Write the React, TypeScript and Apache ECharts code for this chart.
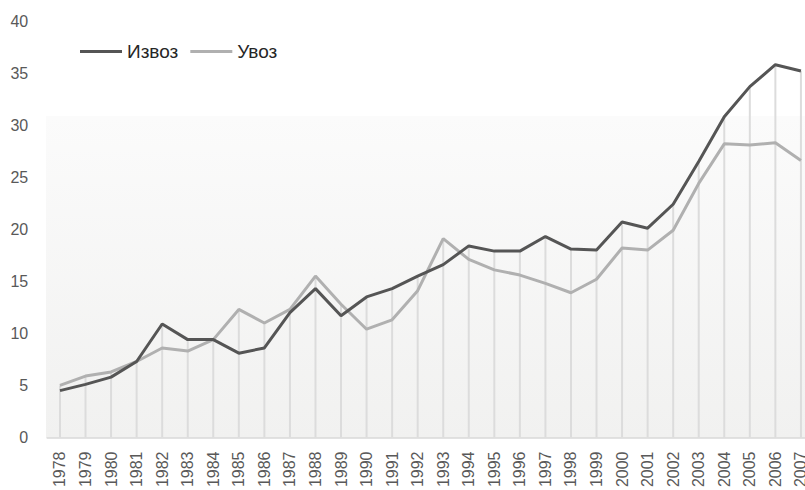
import React, { useEffect, useRef } from "react";
import * as echarts from "echarts";

const years = [
  "1978", "1979", "1980", "1981", "1982", "1983", "1984", "1985", "1986", "1987",
  "1988", "1989", "1990", "1991", "1992", "1993", "1994", "1995", "1996", "1997",
  "1998", "1999", "2000", "2001", "2002", "2003", "2004", "2005", "2006", "2007",
];

const izvoz = [
  4.5, 5.1, 5.8, 7.3, 10.9, 9.4, 9.4, 8.1, 8.6, 12.0,
  14.3, 11.7, 13.5, 14.3, 15.5, 16.6, 18.4, 17.9, 17.9, 19.3,
  18.1, 18.0, 20.7, 20.1, 22.4, 26.5, 30.8, 33.7, 35.8, 35.2,
];

const uvoz = [
  5.0, 5.9, 6.3, 7.3, 8.6, 8.3, 9.4, 12.3, 11.0, 12.3,
  15.5, 12.8, 10.4, 11.3, 14.1, 19.1, 17.1, 16.1, 15.6, 14.8,
  13.9, 15.2, 18.2, 18.0, 19.9, 24.4, 28.2, 28.1, 28.3, 26.6,
];

const seriesNames = ["Извоз", "Увоз"];
const yTicks = { min: 0, max: 40, interval: 5 };

export default function App() {
  const ref = useRef<HTMLDivElement>(null);

  useEffect(() => {
    if (!ref.current) return;
    const chart = echarts.init(ref.current, null, { renderer: "svg" });
    const dropValues = izvoz.map((v, i) => Math.max(v, uvoz[i]));
    chart.setOption({
      animation: false,
      backgroundColor: "#ffffff",
      graphic: [
        {
          type: "rect",
          z: 0,
          silent: true,
          shape: { x: 46, y: 116, width: 770, height: 322 },
          style: {
            fill: new echarts.graphic.LinearGradient(0, 0, 0, 1, [
              { offset: 0, color: "#fbfbfb" },
              { offset: 1, color: "#f1f1f0" },
            ]),
          },
        },
      ],
      legend: {
        left: 75,
        top: 37,
        itemWidth: 42,
        itemHeight: 3,
        itemGap: 12,
        icon: "rect",
        textStyle: {
          fontFamily: "Liberation Sans",
          fontSize: 19,
          color: "#262626",
          padding: [0, 0, 0, 0],
        },
        data: seriesNames,
      },
      grid: {
        left: 47.2,
        width: 766.5,
        top: 21,
        bottom: 52.5,
        containLabel: false,
        outerBoundsMode: "none",
      },
      xAxis: {
        type: "category",
        data: years,
        boundaryGap: true,
        axisLine: { show: true, lineStyle: { color: "#d9d9d9", width: 1.5 } },
        axisTick: { show: false },
        axisLabel: {
          rotate: 90,
          interval: 0,
          margin: 14,
          fontFamily: "Liberation Sans",
          fontSize: 16,
          color: "#595959",
        },
        splitLine: { show: false },
      },
      yAxis: {
        type: "value",
        min: yTicks.min,
        max: yTicks.max,
        interval: yTicks.interval,
        axisLine: { show: false },
        axisTick: { show: false },
        splitLine: { show: false },
        axisLabel: {
          margin: 19,
          fontFamily: "Liberation Sans",
          fontSize: 16,
          color: "#595959",
        },
      },
      series: [
        {
          name: "drop",
          type: "bar",
          data: dropValues,
          barWidth: 2,
          itemStyle: { color: "#dcdcdc" },
          z: 1,
          silent: true,
        },
        {
          name: seriesNames[0],
          type: "line",
          data: izvoz,
          symbol: "none",
          lineStyle: { color: "#555555", width: 3 },
          itemStyle: { color: "#555555" },
          z: 4,
        },
        {
          name: seriesNames[1],
          type: "line",
          data: uvoz,
          symbol: "none",
          lineStyle: { color: "#b0b0b0", width: 3 },
          itemStyle: { color: "#b0b0b0" },
          z: 3,
        },
      ],
    });
    return () => chart.dispose();
  }, []);

  return <div ref={ref} style={{ width: 805, height: 490, position: "absolute", left: 0, top: 0 }} />;
}
